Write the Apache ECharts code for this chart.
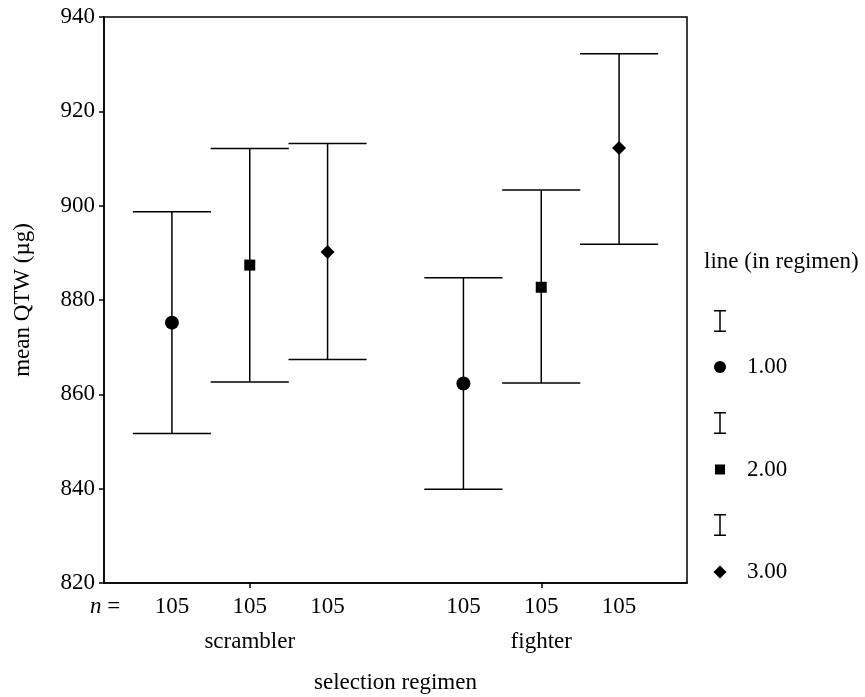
<!DOCTYPE html>
<html>
<head>
<meta charset="utf-8">
<script src="https://cdn.jsdelivr.net/npm/echarts@6/dist/echarts.min.js"></script>
<style>html,body{margin:0;padding:0;background:#fff}#c{width:865px;height:697px}</style>
</head>
<body>
<div id="c"></div>
<script>
// ---- data ----
const categories = ['scrambler', 'fighter'];
const lineNames = ['1.00', '2.00', '3.00'];
const meanLine1 = [875.2, 862.3];
const meanLine2 = [887.4, 882.7];
const meanLine3 = [890.2, 912.2];
const upperLine1 = [898.7, 884.7];
const upperLine2 = [912.1, 903.3];
const upperLine3 = [913.2, 932.2];
const lowerLine1 = [851.7, 839.9];
const lowerLine2 = [862.6, 862.4];
const lowerLine3 = [867.4, 891.8];
const nLine1 = [105, 105];
const nLine2 = [105, 105];
const nLine3 = [105, 105];
const yTicks = [820, 840, 860, 880, 900, 920, 940];

const FONT = "'Liberation Serif','Times New Roman',serif";
const FS = 23;
const means = [meanLine1, meanLine2, meanLine3];
const uppers = [upperLine1, upperLine2, upperLine3];
const lowers = [lowerLine1, lowerLine2, lowerLine3];
const ns = [nLine1, nLine2, nLine3];
const shapes = ['circle', 'rect', 'diamond'];
const legendSizes = [12, 10, 13];
const OFF = 0.267, HALF = 0.134;

function errSeries(li) {
  return {
    type: 'custom', name: 'bar' + (li + 1), itemStyle: {color: '#000'},
    data: categories.map((c, i) => [i, lowers[li][i], uppers[li][i], ns[li][i]]),
    renderItem: function (params, api) {
      const cat = api.value(0), lo = api.value(1), hi = api.value(2), n = api.value(3);
      const band = api.size([1, 0])[0];
      const off = (li - 1) * band * OFF;
      const half = band * HALF;
      const pLo = api.coord([cat, lo]);
      const pHi = api.coord([cat, hi]);
      const pB = api.coord([cat, yTicks[0]]);
      const x = pLo[0] + off;
      const st = {stroke: '#000', lineWidth: 1.5};
      return {type: 'group', children: [
        {type: 'line', shape: {x1: x, y1: pHi[1], x2: x, y2: pLo[1]}, style: st},
        {type: 'line', shape: {x1: x - half, y1: pHi[1], x2: x + half, y2: pHi[1]}, style: st},
        {type: 'line', shape: {x1: x - half, y1: pLo[1], x2: x + half, y2: pLo[1]}, style: st},
        {type: 'text', x: x, y: pB[1] + 24, style: {text: String(n), fill: '#000', font: FS + 'px ' + FONT, align: 'center', verticalAlign: 'middle'}}
      ]};
    }
  };
}
function meanSeries(li) {
  return {
    type: 'custom', name: lineNames[li], itemStyle: {color: '#000'},
    data: categories.map((c, i) => [i, means[li][i]]),
    renderItem: function (params, api) {
      const cat = api.value(0), m = api.value(1);
      const band = api.size([1, 0])[0];
      const p = api.coord([cat, m]);
      const x = p[0] + (li - 1) * band * OFF, y = p[1];
      const st = {fill: '#000'};
      if (shapes[li] === 'circle') return {type: 'circle', shape: {cx: x, cy: y, r: 7}, style: st};
      if (shapes[li] === 'rect') return {type: 'rect', shape: {x: x - 5.5, y: y - 5.5, width: 11, height: 11}, style: st};
      return {type: 'polygon', shape: {points: [[x, y - 7], [x + 7, y], [x, y + 7], [x - 7, y]]}, style: st};
    }
  };
}

const series = [];
for (let li = 0; li < 3; li++) { series.push(errSeries(li)); series.push(meanSeries(li)); }

const markerLegends = lineNames.map((n, i) => {
  const s = legendSizes[i];
  return {
    orient: 'vertical', left: 720 - s / 2, top: 367 + i * 102.5 - 12, itemWidth: s, itemHeight: s,
    selectedMode: false, padding: 0,
    data: [{name: n, icon: shapes[i]}],
    itemStyle: {color: '#000'},
    textStyle: {fontFamily: FONT, fontSize: FS, color: '#000', lineHeight: 24, padding: [0, 0, 0, 22 - s / 2]}
  };
});

const chart = echarts.init(document.getElementById('c'));
chart.setOption({
  animation: false,
  backgroundColor: '#fff',
  textStyle: {fontFamily: FONT},
  title: {text: 'line (in regimen)', left: 704, top: 250, padding: 0,
    textStyle: {fontFamily: FONT, fontSize: FS, fontWeight: 'normal', color: '#000'}},
  grid: {left: 104, right: 178, top: 17, bottom: 114, show: true, borderColor: '#000', borderWidth: 1.5,
    containLabel: false, outerBoundsMode: 'none'},
  legend: [
    {orient: 'vertical', left: 714, top: 310, itemWidth: 12, itemHeight: 22, itemGap: 80, selectedMode: false,
      padding: 0, formatter: () => '',
      data: [1, 2, 3].map(k => ({name: 'bar' + k, icon: 'path://M0,0H12V1.5H6.75V20.5H12V22H0V20.5H5.25V1.5H0Z'})),
      itemStyle: {color: '#000'}}
  ].concat(markerLegends),
  xAxis: {
    type: 'category', data: categories, boundaryGap: true,
    axisLine: {lineStyle: {color: '#000', width: 1.5}},
    axisTick: {show: true, alignWithLabel: true, length: 5, lineStyle: {color: '#000', width: 1.5}},
    axisLabel: {margin: 47, fontFamily: FONT, fontSize: FS, color: '#000'},
    splitLine: {show: false},
    name: 'selection regimen', nameLocation: 'middle', nameGap: 88,
    nameTextStyle: {fontFamily: FONT, fontSize: FS, color: '#000'}
  },
  yAxis: {
    type: 'value', min: yTicks[0], max: yTicks[yTicks.length - 1], interval: 20,
    axisLine: {show: true, lineStyle: {color: '#000', width: 1.5}},
    axisTick: {show: true, length: 5, lineStyle: {color: '#000', width: 1.5}},
    axisLabel: {margin: 9, fontFamily: FONT, fontSize: FS, color: '#000'},
    splitLine: {show: false},
    name: 'mean QTW (µg)', nameLocation: 'middle', nameGap: 70, nameRotate: 90,
    nameTextStyle: {fontFamily: FONT, fontSize: FS, color: '#000'}
  },
  graphic: [
    {type: 'text', left: 90, top: 595, style: {text: '{i|n} =', font: FS + 'px ' + FONT, fill: '#000',
      rich: {i: {fontStyle: 'italic', fontFamily: FONT, fontSize: FS}}}}
  ],
  series: series
});
</script>
</body>
</html>
